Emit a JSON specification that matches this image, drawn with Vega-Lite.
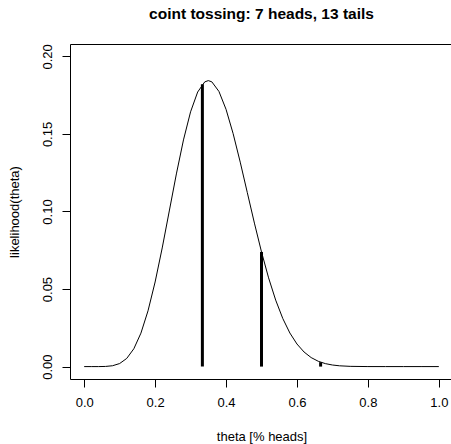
{
  "$schema": "https://vega.github.io/schema/vega-lite/v6.json",
  "autosize": "none",
  "padding": {"top": 44, "left": 70, "bottom": 65, "right": 0},
  "width": 383,
  "height": 335,
  "background": "white",
  "title": {
    "text": "coint tossing: 7 heads, 13 tails",
    "font": "Liberation Sans",
    "fontSize": 15.5,
    "fontWeight": "bold",
    "color": "black",
    "anchor": "middle",
    "baseline": "alphabetic",
    "offset": 9.5
  },
  "config": {
    "view": {"stroke": "black", "strokeWidth": 1},
    "axis": {
      "grid": false,
      "domain": false,
      "tickColor": "black",
      "tickSize": 8,
      "tickWidth": 1,
      "labelFont": "Liberation Sans",
      "labelFontSize": 13,
      "labelColor": "black",
      "titleFont": "Liberation Sans",
      "titleFontSize": 13,
      "titleFontWeight": "normal",
      "titleColor": "black"
    }
  },
  "layer": [
    {
      "data": {"values": [
        {"theta": 0.0, "lik": 0.0},
        {"theta": 0.02, "lik": 0.0000001},
        {"theta": 0.04, "lik": 0.0000075},
        {"theta": 0.06, "lik": 0.000097},
        {"theta": 0.08, "lik": 0.00055},
        {"theta": 0.1, "lik": 0.00197},
        {"theta": 0.12, "lik": 0.00527},
        {"theta": 0.14, "lik": 0.0115},
        {"theta": 0.16, "lik": 0.02157},
        {"theta": 0.18, "lik": 0.03597},
        {"theta": 0.2, "lik": 0.05455},
        {"theta": 0.22, "lik": 0.07649},
        {"theta": 0.24, "lik": 0.10034},
        {"theta": 0.26, "lik": 0.12423},
        {"theta": 0.28, "lik": 0.14616},
        {"theta": 0.3, "lik": 0.16426},
        {"theta": 0.32, "lik": 0.17704},
        {"theta": 0.34, "lik": 0.18358},
        {"theta": 0.35, "lik": 0.1844},
        {"theta": 0.36, "lik": 0.18359},
        {"theta": 0.38, "lik": 0.17741},
        {"theta": 0.4, "lik": 0.16588},
        {"theta": 0.42, "lik": 0.15021},
        {"theta": 0.44, "lik": 0.13183},
        {"theta": 0.46, "lik": 0.11216},
        {"theta": 0.48, "lik": 0.0925},
        {"theta": 0.5, "lik": 0.07393},
        {"theta": 0.52, "lik": 0.05722},
        {"theta": 0.54, "lik": 0.04286},
        {"theta": 0.56, "lik": 0.03102},
        {"theta": 0.58, "lik": 0.02166},
        {"theta": 0.6, "lik": 0.01456},
        {"theta": 0.62, "lik": 0.0094},
        {"theta": 0.64, "lik": 0.00582},
        {"theta": 0.66, "lik": 0.00343},
        {"theta": 0.68, "lik": 0.00192},
        {"theta": 0.7, "lik": 0.00102},
        {"theta": 0.72, "lik": 0.000506},
        {"theta": 0.75, "lik": 0.000154},
        {"theta": 0.8, "lik": 0.0000133},
        {"theta": 0.85, "lik": 0.0000005},
        {"theta": 0.9, "lik": 0.0},
        {"theta": 0.95, "lik": 0.0},
        {"theta": 1.0, "lik": 0.0}
      ]},
      "mark": {"type": "line", "color": "black", "strokeWidth": 1, "clip": true},
      "encoding": {
        "x": {
          "field": "theta", "type": "quantitative",
          "scale": {"domain": [-0.04, 1.04], "nice": false, "zero": false},
          "axis": {
            "values": [0, 0.2, 0.4, 0.6, 0.8, 1.0],
            "format": ".1f",
            "labelPadding": 9,
            "title": "theta [% heads]",
            "titleBaseline": "middle",
            "titleY": 57
          }
        },
        "y": {
          "field": "lik", "type": "quantitative",
          "scale": {"domain": [-0.008, 0.208], "nice": false, "zero": false},
          "axis": {
            "values": [0, 0.05, 0.1, 0.15, 0.2],
            "format": ".2f",
            "labelAngle": -90,
            "labelAlign": "center",
            "labelBaseline": "alphabetic",
            "labelPadding": 11,
            "title": "likelihood(theta)",
            "titleAngle": -90,
            "titleBaseline": "middle",
            "titleAlign": "center",
            "titleX": -56,
            "titleY": 167.5
          }
        }
      }
    },
    {
      "data": {"values": [
        {"theta": 0.3333, "lik": 0.1821},
        {"theta": 0.5, "lik": 0.07393},
        {"theta": 0.6667, "lik": 0.00285}
      ]},
      "mark": {"type": "rule", "color": "black", "strokeWidth": 3},
      "encoding": {
        "x": {"field": "theta", "type": "quantitative"},
        "y": {"field": "lik", "type": "quantitative"},
        "y2": {"datum": 0}
      }
    }
  ]
}
